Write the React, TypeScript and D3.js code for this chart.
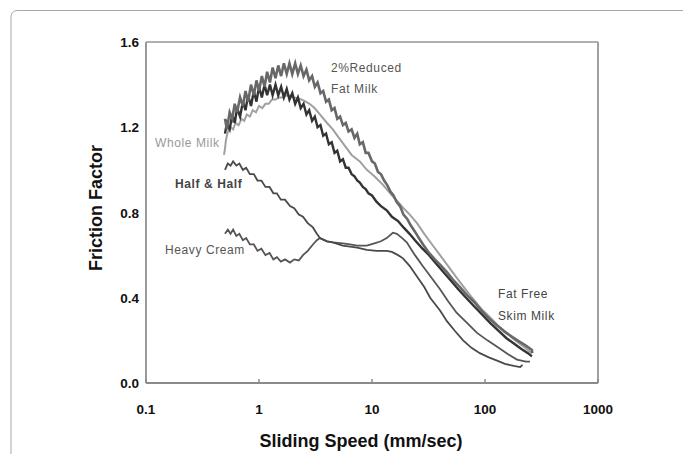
import React from "react";
import * as d3 from "d3";

type Pt = [number, number];

const xTicks = [0.1, 1, 10, 100, 1000];
const xTickLabels = ["0.1", "1", "10", "100", "1000"];
const yTicks = [0, 0.4, 0.8, 1.2, 1.6];
const yTickLabels = ["0.0", "0.4", "0.8", "1.2", "1.6"];

const reducedFat: Pt[] = [
  [0.5, 1.24], [0.52, 1.19], [0.55, 1.27], [0.58, 1.24], [0.61, 1.31], [0.64, 1.27], [0.68, 1.34], [0.72, 1.3],
  [0.76, 1.37], [0.8, 1.32], [0.85, 1.4], [0.9, 1.35], [0.95, 1.42], [1.0, 1.37], [1.06, 1.44], [1.12, 1.39],
  [1.18, 1.46], [1.25, 1.41], [1.32, 1.48], [1.4, 1.43], [1.48, 1.49], [1.57, 1.44], [1.66, 1.5], [1.76, 1.45],
  [1.86, 1.5], [1.97, 1.45], [2.09, 1.5], [2.21, 1.45], [2.34, 1.49], [2.48, 1.44], [2.63, 1.47], [2.78, 1.42],
  [2.95, 1.44], [3.12, 1.39], [3.3, 1.41], [3.5, 1.36], [3.7, 1.37], [3.92, 1.32], [4.15, 1.33], [4.4, 1.28],
  [4.66, 1.29], [4.93, 1.24], [5.22, 1.25], [5.53, 1.21], [5.86, 1.22], [6.2, 1.18], [6.6, 1.19], [7.0, 1.15],
  [7.4, 1.17], [7.8, 1.12], [8.3, 1.13], [8.8, 1.08], [9.3, 1.08], [10, 1.04], [10.6, 1.03], [11.3, 0.99],
  [12, 0.98], [12.8, 0.95], [13.6, 0.93], [14.5, 0.9], [15.5, 0.88], [16.5, 0.85], [17.7, 0.83], [19, 0.79],
  [20.5, 0.77], [22, 0.74], [24, 0.71], [26, 0.68], [28.3, 0.65], [32, 0.61], [36, 0.58], [41, 0.55], [46, 0.52],
  [53, 0.48], [60, 0.45], [70, 0.41], [80, 0.38], [95, 0.335], [110, 0.3], [128, 0.27], [150, 0.24], [175, 0.215],
  [200, 0.195], [230, 0.175], [260, 0.155], [262, 0.14],
];

const skim: Pt[] = [
  [0.5, 1.17], [0.52, 1.22], [0.55, 1.19], [0.58, 1.26], [0.61, 1.22], [0.64, 1.29], [0.68, 1.25], [0.72, 1.32],
  [0.76, 1.28], [0.8, 1.35], [0.85, 1.3], [0.9, 1.37], [0.95, 1.32], [1.0, 1.39], [1.06, 1.34], [1.12, 1.4],
  [1.18, 1.35], [1.25, 1.4], [1.32, 1.35], [1.4, 1.4], [1.48, 1.35], [1.57, 1.39], [1.66, 1.34], [1.76, 1.38],
  [1.86, 1.33], [1.97, 1.36], [2.09, 1.31], [2.21, 1.34], [2.34, 1.29], [2.48, 1.31], [2.63, 1.26], [2.78, 1.28],
  [2.95, 1.23], [3.12, 1.25], [3.3, 1.2], [3.5, 1.21], [3.7, 1.16], [3.92, 1.17], [4.15, 1.12], [4.4, 1.13],
  [4.66, 1.08], [4.93, 1.09], [5.22, 1.04], [5.53, 1.05], [5.86, 1.01], [6.2, 1.01], [6.6, 0.98], [7.0, 0.97],
  [7.4, 0.95], [7.8, 0.94], [8.3, 0.92], [8.8, 0.91], [9.3, 0.89], [10, 0.88], [11, 0.85], [12, 0.83],
  [13.5, 0.81], [15, 0.78], [17, 0.76], [19, 0.73], [21.5, 0.7], [24, 0.67], [28, 0.63], [32, 0.6], [37, 0.56],
  [43, 0.52], [50, 0.48], [58, 0.44], [68, 0.4], [80, 0.36], [95, 0.32], [112, 0.28], [132, 0.245], [155, 0.21],
  [180, 0.185], [210, 0.16], [240, 0.14], [260, 0.125],
];

const wholeMilk: Pt[] = [
  [0.49, 1.07], [0.5, 1.1], [0.51, 1.14], [0.53, 1.18], [0.56, 1.2], [0.59, 1.19], [0.62, 1.22], [0.66, 1.21],
  [0.7, 1.24], [0.74, 1.23], [0.78, 1.26], [0.83, 1.25], [0.88, 1.28], [0.94, 1.27], [1.0, 1.3], [1.07, 1.29],
  [1.14, 1.31], [1.22, 1.31], [1.3, 1.33], [1.4, 1.33], [1.5, 1.34], [1.62, 1.34], [1.75, 1.35], [1.9, 1.345],
  [2.05, 1.34], [2.25, 1.335], [2.5, 1.325], [2.8, 1.31], [3.1, 1.29], [3.46, 1.26], [4.0, 1.22], [4.5, 1.19],
  [5.1, 1.15], [5.8, 1.11], [6.6, 1.07], [7.8, 1.04], [9, 1.0], [10.5, 0.97], [12.5, 0.93], [15, 0.88],
  [17, 0.85], [19, 0.82], [21.6, 0.79], [25, 0.75], [29, 0.7], [34, 0.65], [40, 0.6], [47, 0.55], [55, 0.5],
  [65, 0.45], [77, 0.4], [92, 0.35], [110, 0.31], [130, 0.27], [155, 0.235], [185, 0.2], [220, 0.17], [260, 0.14],
];

const halfAndHalf: Pt[] = [
  [0.5, 1.0], [0.53, 1.03], [0.56, 1.02], [0.59, 1.04], [0.63, 1.02], [0.67, 1.03], [0.72, 1.0], [0.77, 1.01],
  [0.83, 0.98], [0.9, 0.98], [0.97, 0.95], [1.05, 0.95], [1.14, 0.92], [1.24, 0.92], [1.34, 0.89], [1.44, 0.89],
  [1.56, 0.86], [1.7, 0.86], [1.88, 0.83], [2.05, 0.82], [2.25, 0.79], [2.45, 0.78], [2.7, 0.75], [3.0, 0.73],
  [3.25, 0.7], [3.46, 0.68], [4.0, 0.665], [4.5, 0.66], [5.5, 0.645], [6.4, 0.64], [7.4, 0.635], [9.0, 0.625],
  [11, 0.62], [13.5, 0.62], [15, 0.615], [17, 0.6], [18.8, 0.585], [21.5, 0.55], [25, 0.5], [29, 0.45],
  [32.7, 0.4], [40, 0.34], [46, 0.29], [54, 0.245], [64, 0.2], [76, 0.165], [90, 0.14], [108, 0.12],
  [128, 0.105], [150, 0.09], [180, 0.08], [205, 0.075], [215, 0.085],
];

const heavyCream: Pt[] = [
  [0.5, 0.7], [0.53, 0.72], [0.56, 0.7], [0.59, 0.72], [0.63, 0.69], [0.67, 0.7], [0.72, 0.67], [0.77, 0.68],
  [0.83, 0.65], [0.9, 0.65], [0.97, 0.62], [1.05, 0.63], [1.14, 0.6], [1.24, 0.61], [1.34, 0.58], [1.44, 0.59],
  [1.56, 0.57], [1.7, 0.58], [1.88, 0.565], [2.05, 0.58], [2.25, 0.575], [2.45, 0.6], [2.7, 0.62], [3.0, 0.65],
  [3.25, 0.67], [3.46, 0.68], [4.0, 0.665], [4.5, 0.66], [5.5, 0.655], [6.4, 0.65], [7.4, 0.645], [9.0, 0.645],
  [10.5, 0.655], [12, 0.665], [13.5, 0.68], [15.3, 0.705], [16.6, 0.7], [18.5, 0.68], [20.3, 0.66], [24, 0.6],
  [28, 0.55], [34, 0.49], [40, 0.44], [47, 0.385], [56, 0.33], [70, 0.28], [85, 0.235], [105, 0.2], [128, 0.17],
  [160, 0.135], [192, 0.11], [230, 0.1], [250, 0.1],
];

const W = 683;
const H = 454;

export default function App() {
  const x = d3.scaleLog().domain([0.1, 1000]).range([146, 598]);
  const y = d3.scaleLinear().domain([0, 1.6]).range([383, 42]);
  const line = d3
    .line<Pt>()
    .x((d) => x(d[0]))
    .y((d) => y(d[1]));

  const font = "Arial, 'Liberation Sans', Helvetica, sans-serif";
  const x0 = x.range()[0];
  const x1 = x.range()[1];
  const y0 = y.range()[0];
  const y1 = y.range()[1];

  return (
    <svg
      width={W}
      height={H}
      style={{ position: "absolute", left: 0, top: 0, background: "#fff" }}
      fontFamily={font}
    >
      <rect x={11} y={10.5} width={700} height={480} rx={6} fill="#fff" stroke="#a8a8a8" strokeWidth={1} />

      {/* plot frame */}
      <line x1={x0} y1={y1} x2={x1} y2={y1} stroke="#b0b0b0" strokeWidth={2} />
      <line x1={x1} y1={y1} x2={x1} y2={y0} stroke="#a0a0a0" strokeWidth={2} />
      <line x1={x0} y1={y1} x2={x0} y2={y0} stroke="#9a9a9a" strokeWidth={2} />
      <line x1={x0} y1={y0} x2={x1} y2={y0} stroke="#8a8a8a" strokeWidth={2} />

      {xTicks.map((t, i) => (
        <g key={"xt" + i}>
          <line x1={x(t)} x2={x(t)} y1={y0} y2={y0 - 4} stroke="#8a8a8a" strokeWidth={1.5} />
          <text x={x(t)} y={414} textAnchor="middle" fontSize={13.5} fontWeight="bold" fill="#111">
            {xTickLabels[i]}
          </text>
        </g>
      ))}
      {yTicks.map((t, i) => (
        <text key={"yt" + i} x={139} y={y(t) + 5} textAnchor="end" fontSize={13.5} fontWeight="bold" fill="#111">
          {yTickLabels[i]}
        </text>
      ))}

      <text x={361} y={447} textAnchor="middle" fontSize={18} fontWeight="bold" fill="#111">
        Sliding Speed (mm/sec)
      </text>
      <text
        transform={`translate(102, 208) rotate(-90)`}
        textAnchor="middle"
        fontSize={18}
        fontWeight="bold"
        fill="#111"
      >
        Friction Factor
      </text>

      {/* curves */}
      <path d={line(heavyCream) || ""} fill="none" stroke="#555" strokeWidth={1.8} />
      <path d={line(halfAndHalf) || ""} fill="none" stroke="#4a4a4a" strokeWidth={1.8} />
      <path d={line(wholeMilk) || ""} fill="none" stroke="#a0a0a0" strokeWidth={2} />
      <path d={line(skim) || ""} fill="none" stroke="#333" strokeWidth={2.4} />
      <path d={line(reducedFat) || ""} fill="none" stroke="#686868" strokeWidth={2.6} />

      {/* labels */}
      <g fontSize={12} letterSpacing={0.6}>
        <text x={331} y={72} fill="#555">2%Reduced</text>
        <text x={331} y={93} fill="#555">Fat Milk</text>
        <text x={155} y={147} fill="#999">Whole Milk</text>
        <text x={175} y={188} fill="#444" fontWeight="bold">Half &amp; Half</text>
        <text x={165} y={254} fill="#555">Heavy Cream</text>
        <text x={498} y={298} fill="#444">Fat Free</text>
        <text x={498} y={320} fill="#444">Skim Milk</text>
      </g>
    </svg>
  );
}
